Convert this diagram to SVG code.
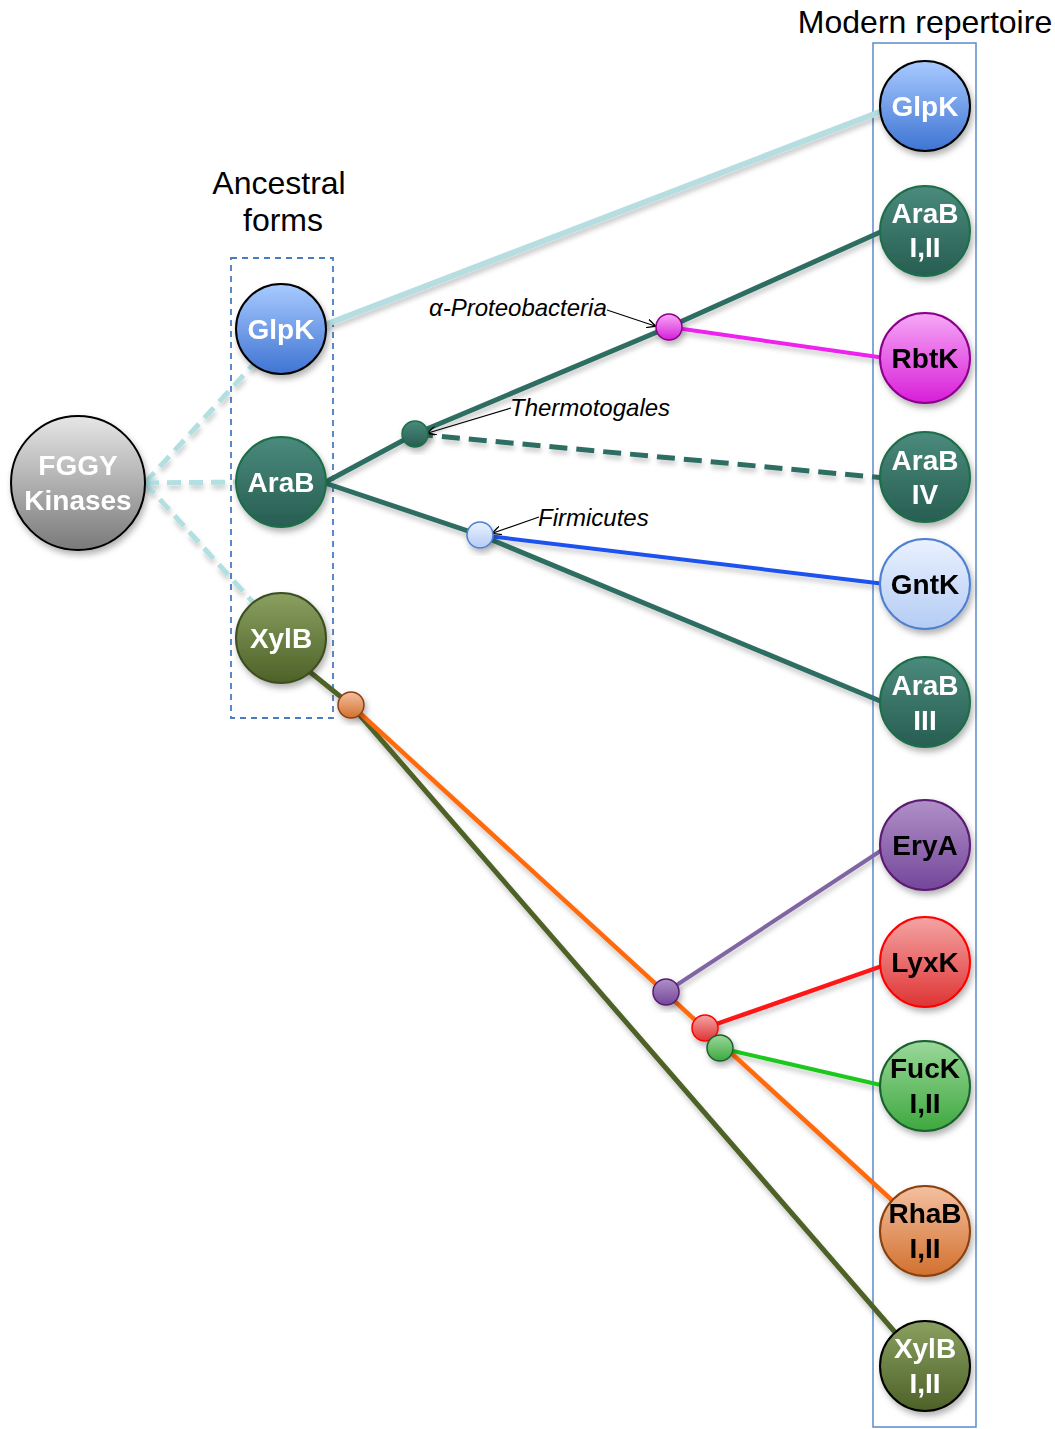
<svg xmlns="http://www.w3.org/2000/svg" width="1055" height="1429" viewBox="0 0 1055 1429">
<defs>
<filter id="sh" x="-30%" y="-30%" width="160%" height="160%"><feDropShadow dx="2" dy="4" stdDeviation="3" flood-color="#000" flood-opacity="0.3"/></filter>
<filter id="lsh" x="-10%" y="-10%" width="120%" height="120%"><feDropShadow dx="1" dy="4" stdDeviation="2.5" flood-color="#000" flood-opacity="0.22"/></filter>
<marker id="arr" viewBox="0 0 10 10" refX="9" refY="5" markerWidth="9" markerHeight="9" orient="auto" markerUnits="userSpaceOnUse"><path d="M0,0 L10,5 L0,10" fill="none" stroke="#000" stroke-width="1.5"/></marker>
<linearGradient id="gGray" x1="0" y1="0" x2="0" y2="1"><stop offset="0" stop-color="#e6e6e6"/><stop offset="1" stop-color="#7a7a7a"/></linearGradient>
<linearGradient id="gBlue" x1="0" y1="0" x2="0" y2="1"><stop offset="0" stop-color="#a8caff"/><stop offset="1" stop-color="#3f74d2"/></linearGradient>
<linearGradient id="gTeal" x1="0" y1="0" x2="0" y2="1"><stop offset="0" stop-color="#4a8a7c"/><stop offset="1" stop-color="#275e52"/></linearGradient>
<linearGradient id="gOlive" x1="0" y1="0" x2="0" y2="1"><stop offset="0" stop-color="#8aa060"/><stop offset="1" stop-color="#4d6128"/></linearGradient>
<linearGradient id="gMag" x1="0" y1="0" x2="0" y2="1"><stop offset="0" stop-color="#f6a8f6"/><stop offset="1" stop-color="#d81ed8"/></linearGradient>
<linearGradient id="gLBlue" x1="0" y1="0" x2="0" y2="1"><stop offset="0" stop-color="#eaf1ff"/><stop offset="1" stop-color="#b4ccf4"/></linearGradient>
<linearGradient id="gPurp" x1="0" y1="0" x2="0" y2="1"><stop offset="0" stop-color="#b090c8"/><stop offset="1" stop-color="#74469a"/></linearGradient>
<linearGradient id="gRed" x1="0" y1="0" x2="0" y2="1"><stop offset="0" stop-color="#f4a4a4"/><stop offset="1" stop-color="#df3434"/></linearGradient>
<linearGradient id="gGreen" x1="0" y1="0" x2="0" y2="1"><stop offset="0" stop-color="#9ad89a"/><stop offset="1" stop-color="#3ea83e"/></linearGradient>
<linearGradient id="gOrange" x1="0" y1="0" x2="0" y2="1"><stop offset="0" stop-color="#f4c0a0"/><stop offset="1" stop-color="#d2702e"/></linearGradient>
</defs>
<style>
.lbl{font-family:"Liberation Sans",Arial,sans-serif;font-weight:bold;font-size:28px;text-anchor:middle}
.w{fill:#fff}
.b{fill:#000}
.hdr{font-family:"Liberation Sans",Arial,sans-serif;font-size:32px;fill:#000;text-anchor:middle}
.it{font-family:"Liberation Sans",Arial,sans-serif;font-style:italic;font-size:24px;fill:#000}
.node{filter:url(#sh)}
.ann{stroke:#000;stroke-width:1.2;fill:none;marker-end:url(#arr)}
</style>

<rect x="873" y="43" width="103" height="1384" fill="none" stroke="#5a8acb" stroke-width="1.5"/>
<rect x="231" y="258" width="102" height="460" fill="none" stroke="#4a7cc0" stroke-width="1.8" stroke-dasharray="6,5"/>
<text class="hdr" x="925" y="33">Modern repertoire</text>
<text class="hdr" x="279" y="194">Ancestral</text>
<text class="hdr" x="283" y="231">forms</text>

<g id="connectors" fill="none" stroke-linecap="butt" filter="url(#lsh)">
<line x1="145" y1="483" x2="262" y2="355" stroke="#b2dfe0" stroke-width="5" stroke-dasharray="14,8"/>
<line x1="145" y1="483" x2="240" y2="482" stroke="#b2dfe0" stroke-width="5" stroke-dasharray="14,8"/>
<line x1="145" y1="483" x2="260" y2="610" stroke="#b2dfe0" stroke-width="5" stroke-dasharray="14,8"/>
<line x1="322" y1="326" x2="885" y2="110" stroke="#b6dde0" stroke-width="6"/>
<polyline points="322,484 415,434 669,327 885,230" stroke="#2f6d62" stroke-width="5"/>
<line x1="415" y1="434" x2="885" y2="478" stroke="#2f6d62" stroke-width="5" stroke-dasharray="18,9"/>
<line x1="669" y1="327" x2="885" y2="358" stroke="#ee22ee" stroke-width="4"/>
<polyline points="322,482 480,535 885,703" stroke="#2f6d62" stroke-width="5"/>
<line x1="480" y1="535" x2="885" y2="584" stroke="#1f52ee" stroke-width="4"/>
<polyline points="305,668 351,705 900,1338" stroke="#4f6228" stroke-width="5"/>
<line x1="351" y1="705" x2="895" y2="1203" stroke="#ff6a10" stroke-width="4.5"/>
<line x1="666" y1="992" x2="885" y2="848" stroke="#8065a4" stroke-width="4"/>
<line x1="705" y1="1028" x2="885" y2="965" stroke="#ff1414" stroke-width="4.5"/>
<line x1="720" y1="1048" x2="885" y2="1086" stroke="#1ec81e" stroke-width="4"/>
</g>

<g id="annotations">
<line class="ann" x1="607" y1="310" x2="655" y2="326"/>
<text class="it" x="429" y="316">α-Proteobacteria</text>
<line class="ann" x1="511" y1="408" x2="428" y2="433"/>
<text class="it" x="510" y="416">Thermotogales</text>
<line class="ann" x1="539" y1="517" x2="493" y2="533"/>
<text class="it" x="538" y="526">Firmicutes</text>
</g>

<g id="n-fggy" class="node"><circle cx="78" cy="483" r="67" fill="url(#gGray)" stroke="#000" stroke-width="2"/><text class="lbl w" x="78" y="475">FGGY</text><text class="lbl w" x="78" y="510">Kinases</text></g>
<g id="n-anc-glpk" class="node"><circle cx="281" cy="329" r="45" fill="url(#gBlue)" stroke="#000" stroke-width="2"/><text class="lbl w" x="281" y="339">GlpK</text></g>
<g id="n-anc-arab" class="node"><circle cx="281" cy="482" r="45" fill="url(#gTeal)" stroke="#1e6e48" stroke-width="2"/><text class="lbl w" x="281" y="492">AraB</text></g>
<g id="n-anc-xylb" class="node"><circle cx="281" cy="638" r="45" fill="url(#gOlive)" stroke="#3e5020" stroke-width="2"/><text class="lbl w" x="281" y="648">XylB</text></g>

<g id="b-alpha" class="node"><circle cx="669" cy="327" r="13" fill="url(#gMag)" stroke="#8a008a" stroke-width="1.5"/></g>
<g id="b-thermo" class="node"><circle cx="415" cy="434" r="13" fill="url(#gTeal)" stroke="#1e6e48" stroke-width="1.5"/></g>
<g id="b-firm" class="node"><circle cx="480" cy="535" r="13" fill="url(#gLBlue)" stroke="#5080d0" stroke-width="1.5"/></g>
<g id="b-orange" class="node"><circle cx="351" cy="705" r="13" fill="url(#gOrange)" stroke="#8a4010" stroke-width="1.5"/></g>
<g id="b-purple" class="node"><circle cx="666" cy="992" r="13" fill="url(#gPurp)" stroke="#5a1a70" stroke-width="1.5"/></g>
<g id="b-red" class="node"><circle cx="705" cy="1028" r="13" fill="url(#gRed)" stroke="#ff0000" stroke-width="1.5"/></g>
<g id="b-green" class="node"><circle cx="720" cy="1048" r="13" fill="url(#gGreen)" stroke="#1a6030" stroke-width="1.5"/></g>

<g id="m-glpk" class="node"><circle cx="925" cy="106" r="45" fill="url(#gBlue)" stroke="#000" stroke-width="2"/><text class="lbl w" x="925" y="116">GlpK</text></g>
<g id="m-arab12" class="node"><circle cx="925" cy="231" r="45" fill="url(#gTeal)" stroke="#1e6e48" stroke-width="2"/><text class="lbl w" x="925" y="223">AraB</text><text class="lbl w" x="925" y="257">I,II</text></g>
<g id="m-rbtk" class="node"><circle cx="925" cy="358" r="45" fill="url(#gMag)" stroke="#8a008a" stroke-width="2"/><text class="lbl b" x="925" y="368">RbtK</text></g>
<g id="m-arab4" class="node"><circle cx="925" cy="477" r="45" fill="url(#gTeal)" stroke="#1e6e48" stroke-width="2"/><text class="lbl w" x="925" y="470">AraB</text><text class="lbl w" x="925" y="504">IV</text></g>
<g id="m-gntk" class="node"><circle cx="925" cy="584" r="45" fill="url(#gLBlue)" stroke="#5080d0" stroke-width="2"/><text class="lbl b" x="925" y="594">GntK</text></g>
<g id="m-arab3" class="node"><circle cx="925" cy="702" r="45" fill="url(#gTeal)" stroke="#1e6e48" stroke-width="2"/><text class="lbl w" x="925" y="695">AraB</text><text class="lbl w" x="925" y="730">III</text></g>
<g id="m-erya" class="node"><circle cx="925" cy="845" r="45" fill="url(#gPurp)" stroke="#5a1a70" stroke-width="2"/><text class="lbl b" x="925" y="855">EryA</text></g>
<g id="m-lyxk" class="node"><circle cx="925" cy="962" r="45" fill="url(#gRed)" stroke="#ff0000" stroke-width="2"/><text class="lbl b" x="925" y="972">LyxK</text></g>
<g id="m-fuck" class="node"><circle cx="925" cy="1086" r="45" fill="url(#gGreen)" stroke="#1a6030" stroke-width="2"/><text class="lbl b" x="925" y="1078">FucK</text><text class="lbl b" x="925" y="1113">I,II</text></g>
<g id="m-rhab" class="node"><circle cx="925" cy="1231" r="45" fill="url(#gOrange)" stroke="#8a4010" stroke-width="2"/><text class="lbl b" x="925" y="1223">RhaB</text><text class="lbl b" x="925" y="1258">I,II</text></g>
<g id="m-xylb" class="node"><circle cx="925" cy="1366" r="45" fill="url(#gOlive)" stroke="#000" stroke-width="2"/><text class="lbl w" x="925" y="1358">XylB</text><text class="lbl w" x="925" y="1393">I,II</text></g>
</svg>
